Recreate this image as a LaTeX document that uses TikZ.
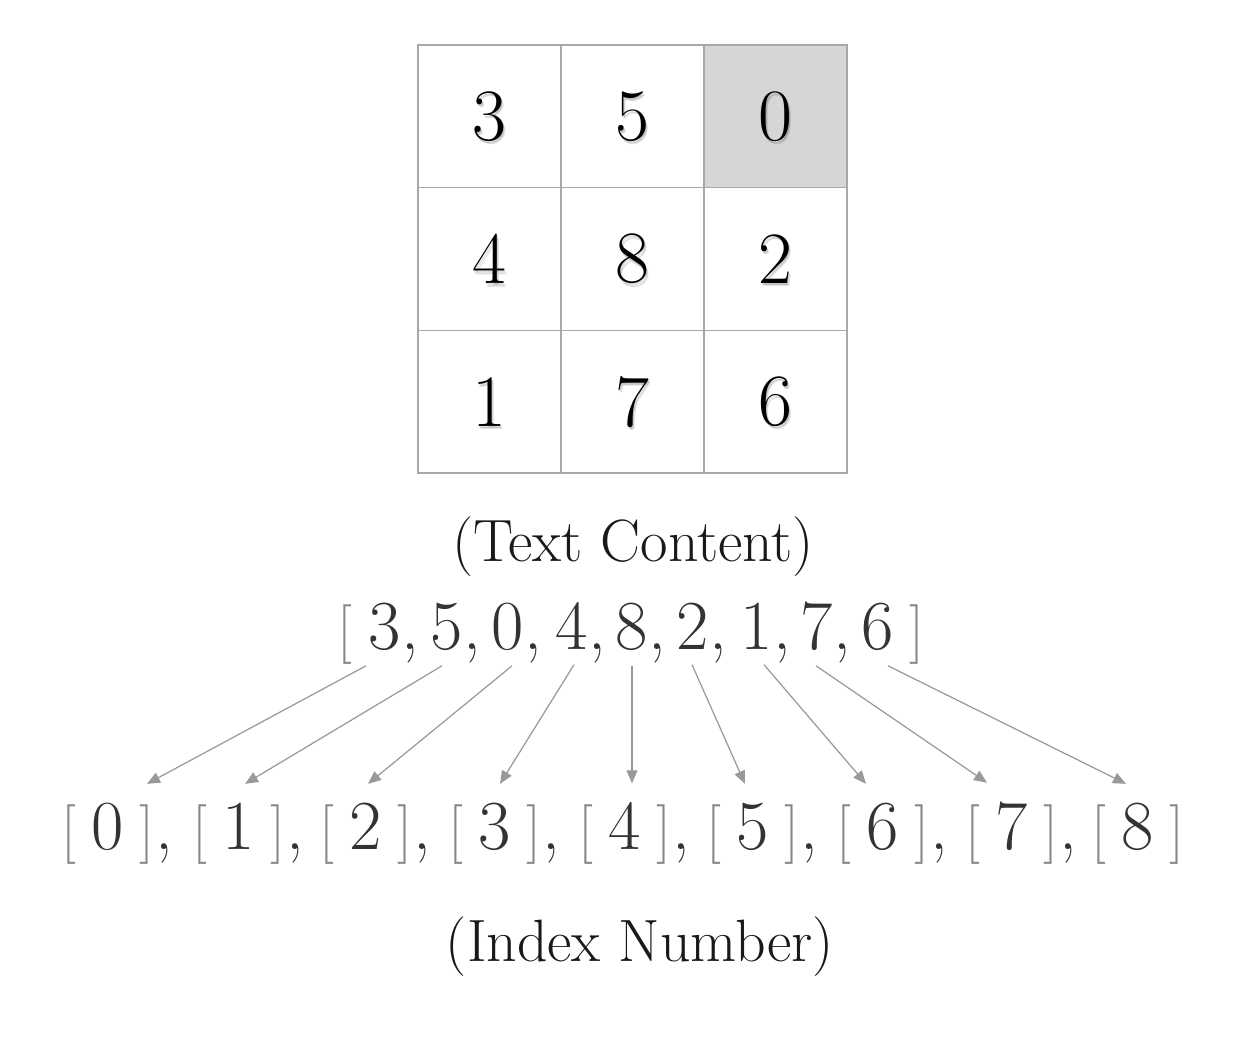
\documentclass[tikz,border=0pt]{standalone}
\usetikzlibrary{arrows.meta,calc}
\definecolor{gridline}{HTML}{A8A8A8}
\definecolor{shade}{HTML}{D6D6D6}
\definecolor{arrowgray}{HTML}{999999}
\definecolor{textgray}{HTML}{333333}
\definecolor{bracketgray}{HTML}{888888}
\begin{document}
\begin{tikzpicture}[
    cell/.style={draw=gridline, line width=0.45pt, minimum width=1.43cm, minimum height=1.427cm, inner sep=0pt},
    celltext/.style={inner sep=0pt, font=\fontsize{21}{25}\selectfont},
    entry/.style={inner sep=0pt, anchor=base, text=textgray, font=\fontsize{20}{24}\selectfont},
    brk/.style={inner sep=0pt, anchor=base, text=bracketgray, font=\fontsize{17}{20}\selectfont},
    caption/.style={inner sep=0pt, text=black!90, font=\fontsize{17}{20}\selectfont},
    link/.style={draw=arrowgray, line width=0.35pt, -{Triangle[length=1.3mm,width=1.1mm]}}
]
    \useasboundingbox (0,0) rectangle (12.48,10.60);

    % the 3x3 board
    \foreach \v/\f [count=\n from 0, evaluate=\n as \c using {int(mod(\n,3))}, evaluate=\n as \r using {int(\n/3)}]
        in {3/white,5/white,0/shade,4/white,8/white,2/white,1/white,7/white,6/white} {
        \node[cell, fill=\f] (c\n) at ({4.895+1.43*\c},{9.437-1.427*\r}) {};
        \node[celltext, text=black, opacity=0.12] (sa\n) at ($(c\n)+(0.01,-0.02)$) {\v};
        \node[celltext, text=black, opacity=0.12] (sb\n) at ($(c\n)+(0.02,-0.035)$) {\v};
        \node[celltext, text=black] (d\n) at (c\n) {\v};
    }

    \node[caption] (textlabel) at (6.33,5.135) {(Text Content)};

    % the flat list, comma hangs right of each value
    \node[brk] (lopen) at (3.45,4.10) {[};
    \node[brk] (lclose) at (9.17,4.10) {]};
    \foreach \v/\x/\sep [count=\n from 0] in {3/3.85/{,},5/4.47/{,},0/5.08/{,},4/5.72/{,},8/6.32/{,},2/6.93/{,},1/7.57/{,},7/8.17/{,},6/8.78/{}}
        \node[entry] (v\n) at (\x,4.10) {\v\rlap{\smash{\sep}}};

    % the index slots
    \foreach \x [count=\n from 0] in {1.08,2.39,3.66,4.95,6.25,7.53,8.83,10.12,11.38} {
        \node[entry] (i\n) at (\x,2.10) {\n};
        \node[brk] (io\n) at (\x-0.39,2.10) {[};
        \node[brk] (ic\n) at (\x+0.39,2.10) {]};
    }
    \foreach \n in {0,...,7}
        \node[entry, anchor=base west] (ik\n) at (ic\n.base east) {,};

    \node[caption] (indexlabel) at (6.40,1.135) {(Index Number)};

    % arrows from values to slots
    \foreach \sx/\ex [count=\n from 0] in {-0.19/0.39,-0.05/0.06,0.04/0.02,0.02/0.05,0/0.07,-0.01/-0.08,0.07/-0.17,-0.01/-0.25,0.10/-0.12}
        \draw[link] ($(v\n.south)+(\sx,-0.14)$) -- ($(i\n.north)+(\ex,0.19)$);
\end{tikzpicture}
\end{document}
